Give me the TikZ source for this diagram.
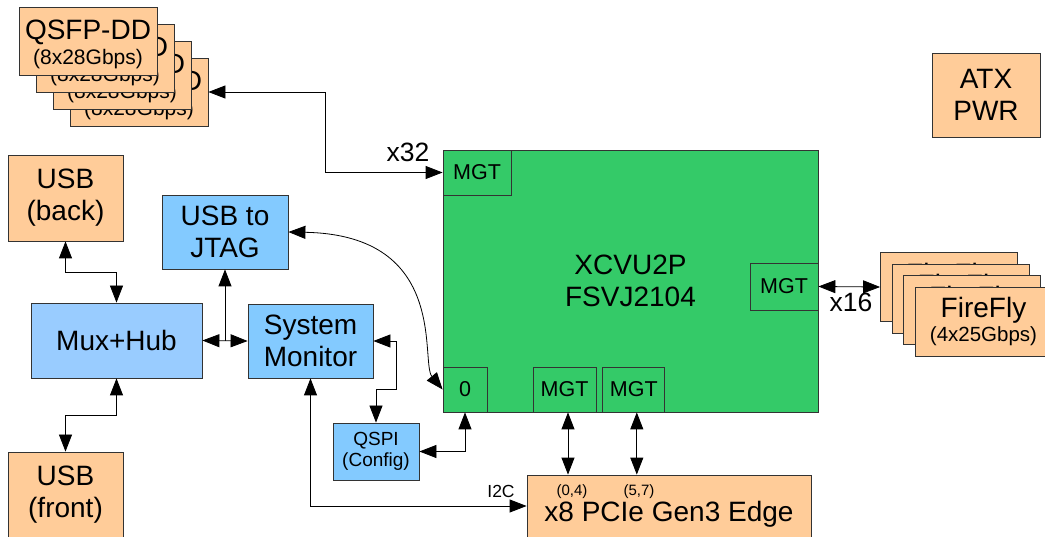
\documentclass[tikz,border=0pt]{standalone}
\usepackage{fontspec}
\setmainfont{Liberation Sans}
\usepackage{color}
\definecolor{myorange}{RGB}{255,204,153}
\definecolor{myblue}{RGB}{131,202,255}
\definecolor{mylightblue}{RGB}{153,204,255}
\definecolor{mygreen}{RGB}{52,202,104}
\usepackage{tikz}
\usetikzlibrary{arrows.meta,positioning,calc}

\newcommand{\bigtxt}{\fontsize{28}{32}\selectfont}
\newcommand{\qsfptxt}{\fontsize{28}{25}\selectfont}
\newcommand{\fireflytxt}{\fontsize{28}{23.5}\selectfont}
\newcommand{\subtxt}{\fontsize{21}{24}\selectfont}
\newcommand{\fftxt}{\fontsize{20.5}{24}\selectfont}
\newcommand{\mgttxt}{\fontsize{21.5}{25}\selectfont}
\newcommand{\qspitxt}{\fontsize{19}{21}\selectfont}
\newcommand{\lbltxt}{\fontsize{26.5}{30}\selectfont}
\newcommand{\itctxt}{\fontsize{17.5}{20}\selectfont}
\newcommand{\lanetxt}{\fontsize{15}{18}\selectfont}

\begin{document}
\begin{tikzpicture}[
  x=1pt, y=-1pt,
  line width=0.8pt,
  >={Triangle[length=17pt,width=13pt]},
  boxsize/.style 2 args={minimum width=#1, minimum height=#2},
  myrect/.style={
    draw=black!80,
    line width=0.8pt,
    inner sep=0pt,
    align=center,
    font=\bigtxt
    },
  orangerect/.style={myrect, fill=myorange},
  bluerect/.style={myrect, fill=myblue},
  greenrect/.style={myrect, fill=mygreen},
  mgtrect/.style={greenrect, font=\mgttxt},
  link/.style={<->, draw=black},
  lbl/.style={inner sep=0pt}
]
\useasboundingbox (0,0) rectangle (1045,537);

% QSFP-DD cages, back one first
\foreach \i/\d in {3/51,2/34,1/17,0/0}
  \node [orangerect, font=\qsfptxt, boxsize={138}{68}] (qsfp\i) at (88+\d,41+\d)
    {\rule{0pt}{26pt}QSFP-DD\\{\subtxt (8x28Gbps)}};

% FireFly modules
\foreach \i/\d in {1/0,2/11.5,3/23,4/34.5}
  \node [orangerect, font=\fireflytxt, boxsize={137}{69}] (ff\i) at (949+\d,287+\d)
    {FireFly\\{\fftxt (4x25Gbps)}};

\node [orangerect, boxsize={108}{84}] (atx) at (986,95) {ATX\\PWR};

% USB side
\node [orangerect, boxsize={115}{86}] (usbback) at (65.5,198) {USB\\(back)};
\node [orangerect, boxsize={115}{86}] (usbfront) at (65.5,495) {USB\\(front)};
\node [myrect, fill=mylightblue, boxsize={171}{75}] (mux) at (116.5,340.5) {Mux+Hub};
\node [bluerect, boxsize={126}{74}] (jtag) at (225,232) {USB to\\JTAG};
\node [bluerect, boxsize={125}{74}] (sysmon) at (310.5,341) {System\\Monitor};
\node [bluerect, boxsize={86}{57}, font=\qspitxt] (qspi) at (376,451.5) {QSPI\\(Config)};

% FPGA and its banks
\node [greenrect, boxsize={375}{262}] (fpga) at (630.5,281) {XCVU2P\\FSVJ2104};
\node [mgtrect, boxsize={68}{45}, anchor=north west] (mgtq) at (fpga.north west) {MGT};
\node [mgtrect, boxsize={68}{47}, anchor=east] (mgtf) at ([yshift=-5.5pt]fpga.east) {MGT};
\node [mgtrect, boxsize={44}{45}, anchor=south west] (zero) at (fpga.south west) {0};
\node [mgtrect, boxsize={63}{45}, anchor=south west] (mgta) at ([xshift=90pt]fpga.south west) {MGT};
\node [mgtrect, boxsize={62}{45}, right=6pt of mgta] (mgtb) {MGT};

\node [orangerect, boxsize={284}{78}] (pcie) at (669,514) {x8 PCIe Gen3 Edge};

% connections
\coordinate (qbend) at (325.5,130);
\draw [link] (qsfp3.east) -| (qbend) |- (mgtq.west);
\node [lbl, font=\lbltxt] (x32) at (408,152) {x32};

\draw [link] (mgtf.east) -- (ff1.west);
\node [lbl, font=\lbltxt] (x16) at (851,302) {x16};

\draw [link] (usbback.south) -- ++(0,31) -| (mux.north);
\draw [link] (mux.south) -- ++(0,37) -| (usbfront.north);
\draw [link] (mux.east) -- (sysmon.west);
\draw [->] ($(mux.east)!0.5!(sysmon.west)$) -- (jtag.south);

\draw [link] (jtag.east) .. controls (450,235) and (420,362) .. (zero.west);
\draw [link] (sysmon.east) -| ++(23,48) -| (qspi.north);
\draw [link] (qspi.east) -| (zero.south);

\draw [link] (sysmon.south) |- ([yshift=8pt]pcie.west);
\node [lbl, font=\itctxt] (i2c) at (501,491) {I2C};

\draw [link] ([xshift=3.5pt]mgta.south) -- ([xshift=3.5pt]mgta.south |- pcie.north);
\draw [link] ([xshift=3pt]mgtb.south) -- ([xshift=3pt]mgtb.south |- pcie.north);
\node [lbl, font=\lanetxt] (lanea) at (572,492) {(0,4)};
\node [lbl, font=\lanetxt] (laneb) at (639,492) {(5,7)};

\end{tikzpicture}
\end{document}
